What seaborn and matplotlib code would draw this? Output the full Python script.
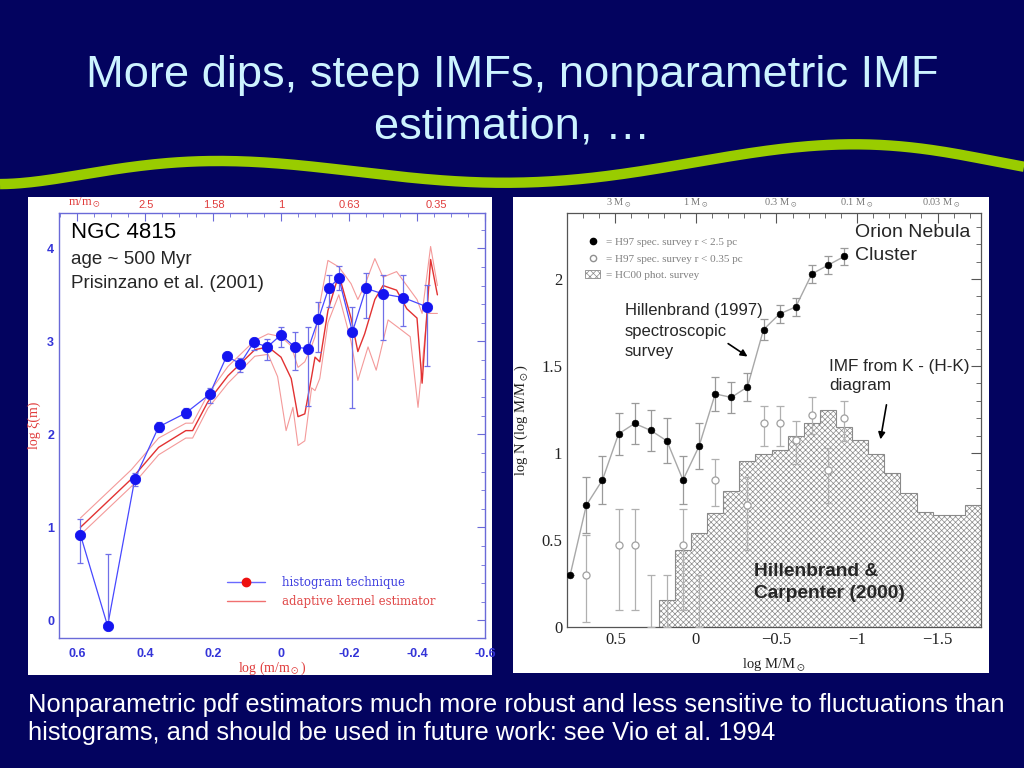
import numpy as np
import matplotlib
matplotlib.use("Agg")
import matplotlib.pyplot as plt
import seaborn as sns
from matplotlib.lines import Line2D
from matplotlib.patches import Rectangle, Patch
from matplotlib.ticker import MultipleLocator

# ---------------- left panel : NGC 4815, Prisinzano et al. (2001) ----------------
hist_logm = [0.59, 0.51, 0.43, 0.36, 0.28, 0.21, 0.16, 0.12, 0.08, 0.04, 0.00,
             -0.04, -0.08, -0.11, -0.14, -0.17, -0.21, -0.25, -0.30, -0.36, -0.43]
hist_logxi = [0.92, -0.06, 1.52, 2.08, 2.23, 2.43, 2.84, 2.76, 2.99, 2.94, 3.07,
              2.94, 2.92, 3.24, 3.57, 3.68, 3.10, 3.57, 3.51, 3.47, 3.37]
hist_err_lo = [0.30, 0.00, 0.08, 0.05, 0.05, 0.09, 0.03, 0.09, 0.08, 0.14, 0.13,
               0.25, 0.61, 0.36, 0.20, 0.13, 0.82, 0.32, 0.50, 0.30, 0.64]
hist_err_hi = [0.17, 0.77, 0.06, 0.05, 0.05, 0.07, 0.03, 0.06, 0.05, 0.09, 0.08,
               0.16, 0.23, 0.18, 0.14, 0.13, 0.27, 0.17, 0.20, 0.24, 0.24]

kern_logm = [0.59, 0.44, 0.36, 0.28, 0.26, 0.215, 0.156, 0.077, 0.038, 0.0, -0.03,
             -0.05, -0.07, -0.09, -0.10, -0.114, -0.138, -0.17, -0.206, -0.226,
             -0.246, -0.276, -0.30, -0.34, -0.37, -0.40, -0.415, -0.44, -0.46]
kern_mid = [1.00, 1.52, 1.86, 2.04, 2.04, 2.35, 2.63, 2.91, 2.94, 2.83, 2.60,
            2.19, 2.22, 2.62, 2.83, 2.78, 3.33, 3.72, 3.25, 2.89,
            3.08, 3.45, 3.60, 3.55, 3.35, 3.25, 2.55, 3.88, 3.50]
kern_up = [1.10, 1.62, 1.96, 2.12, 2.12, 2.43, 2.73, 3.01, 3.08, 3.05, 2.95,
           2.72, 2.78, 2.95, 3.05, 3.40, 3.87, 3.80, 3.62, 3.45,
           3.60, 3.89, 3.69, 3.75, 3.60, 3.45, 3.30, 4.02, 3.60]
kern_low_logm = [0.59, 0.44, 0.36, 0.28, 0.26, 0.215, 0.156, 0.077, 0.038, 0.01,
                 -0.015, -0.035, -0.05, -0.07, -0.09, -0.10, -0.114, -0.138, -0.17,
                 -0.206, -0.226, -0.256, -0.28, -0.315, -0.355, -0.38, -0.403,
                 -0.43, -0.46]
kern_low = [0.92, 1.44, 1.78, 1.96, 1.96, 2.28, 2.55, 2.84, 2.86, 2.62,
            2.04, 2.29, 1.88, 1.93, 2.50, 2.47, 2.60, 3.20, 3.50,
            3.00, 2.58, 2.94, 2.69, 3.23, 3.12, 3.05, 2.29,
            3.30, 3.30]

left_xticks = [0.6, 0.4, 0.2, 0.0, -0.2, -0.4, -0.6]
left_xlabels = ["0.6", "0.4", "0.2", "0", "-0.2", "-0.4", "-0.6"]
left_yticks = [0, 1, 2, 3, 4]
left_top_masses = [2.5, 1.58, 1.0, 0.63, 0.35]
left_top_labels = ["2.5", "1.58", "1", "0.63", "0.35"]

# ---------------- right panel : Orion Nebula Cluster ----------------
h97_logm = [0.78, 0.68, 0.58, 0.48, 0.38, 0.28, 0.18, 0.08, -0.02, -0.12, -0.22,
            -0.32, -0.42, -0.52, -0.62, -0.72, -0.82, -0.92]
h97_logn = [0.30, 0.70, 0.845, 1.11, 1.17, 1.13, 1.07, 0.845, 1.04, 1.34, 1.32,
            1.38, 1.71, 1.80, 1.84, 2.03, 2.08, 2.13]
h97_err = [0.0, 0.16, 0.14, 0.12, 0.12, 0.12, 0.13, 0.14, 0.13, 0.10, 0.09,
           0.08, 0.06, 0.05, 0.05, 0.05, 0.05, 0.05]

core_logm = [0.68, 0.48, 0.38, 0.08, -0.12, -0.32, -0.42, -0.52, -0.62, -0.72, -0.82, -0.92]
core_logn = [0.30, 0.47, 0.47, 0.47, 0.845, 0.70, 1.17, 1.17, 1.075, 1.22, 0.90, 1.20]
core_err_lo = [0.27, 0.37, 0.37, 0.37, 0.15, 0.26, 0.13, 0.13, 0.14, 0.11, 0.19, 0.13]
core_err_hi = [0.23, 0.21, 0.21, 0.21, 0.12, 0.16, 0.10, 0.10, 0.11, 0.10, 0.13, 0.10]
core_lim_logm = [0.28, 0.18, -0.02]
core_lim_logn = [0.30, 0.30, 0.30]

hc00_edges = [0.23, 0.13, 0.03, -0.07, -0.17, -0.27, -0.37, -0.47, -0.57, -0.67, -0.77,
              -0.87, -0.97, -1.07, -1.17, -1.27, -1.37, -1.47, -1.57, -1.67, -1.77]
hc00_logn = [0.155, 0.44, 0.54, 0.655, 0.78, 0.955, 0.995, 1.02, 1.10, 1.17, 1.25,
             1.15, 1.075, 0.995, 0.885, 0.77, 0.66, 0.645, 0.645, 0.70]

right_xticks = [0.5, 0.0, -0.5, -1.0, -1.5]
right_xlabels = ["0.5", "0", "\u22120.5", "\u22121", "\u22121.5"]
right_yticks = [0, 0.5, 1, 1.5, 2]
right_ylabels = ["0", "0.5", "1", "1.5", "2"]
right_top_masses = [3, 1, 0.3, 0.1, 0.03]
right_top_labels = [r"3 M$_\odot$", r"1 M$_\odot$", r"0.3 M$_\odot$", r"0.1 M$_\odot$", r"0.03 M$_\odot$"]

# slide decoration (pixel coords of the green swoosh centre line)
swoosh_x = [0, 100, 200, 300, 400, 512, 600, 700, 800, 870, 950, 1024]
swoosh_y = [184, 172, 161, 165, 177, 183, 177, 160, 148, 145, 152, 167]

# ---------------- figure ----------------
sns.set_style("white")
plt.rcParams["font.family"] = ["Liberation Sans", "DejaVu Sans"]
plt.rcParams["mathtext.fontset"] = "stix"
plt.rcParams["hatch.linewidth"] = 0.5

BG = "#03035f"
SERIF = "Liberation Serif"
fig = plt.figure(figsize=(10.24, 7.68), dpi=100, facecolor=BG)

def fx(px):
    return px / 1024

def fy(py):
    return 1 - py / 768

# title
fig.text(0.5, fy(75), "More dips, steep IMFs, nonparametric IMF", ha="center", va="center",
         color="#cdf3ff", fontsize=32.6)
fig.text(0.5, fy(127), "estimation, \u2026", ha="center", va="center",
         color="#cdf3ff", fontsize=32.6)

# swoosh
sx = np.linspace(0, 1024, 300)
coef = np.polyfit(np.array(swoosh_x) / 1024, swoosh_y, 6)
sy = np.polyval(coef, sx / 1024)
fig.add_artist(Line2D(fx(sx), fy(sy), lw=7.5, color="#99cc00", transform=fig.transFigure,
                      solid_capstyle="butt"))

# white panels, behind the axes
fig.add_artist(Rectangle((fx(28), fy(675)), fx(492 - 28), (675 - 197) / 768, zorder=-10,
                         transform=fig.transFigure, facecolor="white", edgecolor="none"))
fig.add_artist(Rectangle((fx(513), fy(673)), fx(989 - 513), (673 - 197) / 768, zorder=-10,
                         transform=fig.transFigure, facecolor="white", edgecolor="none"))

# ---------------- left axes ----------------
axL = fig.add_axes([fx(59), fy(638), fx(426), 425 / 768])
axL.set_facecolor("white")
blue_ax = "#6a6ad8"
red_lab = "#e03c3c"

sns.lineplot(x=kern_logm, y=kern_up, ax=axL, color="#f49a9a", lw=0.8, sort=False, estimator=None)
sns.lineplot(x=kern_low_logm, y=kern_low, ax=axL, color="#f49a9a", lw=0.8, sort=False, estimator=None)
sns.lineplot(x=kern_logm, y=kern_mid, ax=axL, color="#e23232", lw=1.0, sort=False, estimator=None)

axL.errorbar(hist_logm, hist_logxi, yerr=[hist_err_lo, hist_err_hi], fmt="none",
             ecolor="#7070e8", elinewidth=0.9, capsize=2.5, capthick=0.9, zorder=3)
sns.lineplot(x=hist_logm, y=hist_logxi, ax=axL, color="#4848ff", lw=0.9, sort=False, estimator=None)
sns.scatterplot(x=hist_logm, y=hist_logxi, ax=axL, color="#1414f0", s=55, edgecolor="#1414f0",
                zorder=5, legend=False)

axL.set_xlim(0.653, -0.6)
axL.set_ylim(-0.19, 4.38)
axL.set_xticks(left_xticks, left_xlabels)
axL.set_yticks(left_yticks, [str(v) for v in left_yticks])
axL.xaxis.set_minor_locator(MultipleLocator(0.05))
axL.yaxis.set_minor_locator(MultipleLocator(0.2))
axL.tick_params(which="both", direction="in", top=True, right=True, color=blue_ax,
                labelcolor="#3434d8", labelsize=9)
axL.tick_params(axis="x", which="major", pad=7)
axL.tick_params(which="major", length=6, width=0.8)
axL.tick_params(which="minor", length=3, width=0.6)
for lab in axL.get_xticklabels() + axL.get_yticklabels():
    lab.set_fontweight("bold")
for sp in axL.spines.values():
    sp.set_color(blue_ax)
    sp.set_linewidth(1.0)
axL.set_xlabel(r"log (m/m$_\odot$)", color=red_lab, fontsize=10, family=SERIF, labelpad=0)
axL.set_ylabel("log \u03be(m)", color=red_lab, fontsize=10, family=SERIF, labelpad=4)

secL = axL.secondary_xaxis("top")
secL.set_xticks(np.log10(left_top_masses), left_top_labels)
secL.tick_params(length=0, labelcolor=red_lab, labelsize=8, pad=2)
secL.spines["top"].set_visible(False)
axL.text(0.02, 1.006, r"m/m$_\odot$", transform=axL.transAxes, color=red_lab, fontsize=9,
         family=SERIF, va="bottom")

legL = axL.legend(handles=[Line2D([], [], color="#6a6aff", lw=1.0, marker="o", ms=6,
                                  mfc="#ee1010", mec="#ee1010"),
                           Line2D([], [], color="#f07070", lw=1.0)],
                  labels=["histogram technique", "adaptive kernel estimator"],
                  loc="lower left", bbox_to_anchor=(0.37, 0.045), frameon=False,
                  handlelength=3.2, handletextpad=1.4, labelspacing=0.5,
                  prop={"family": "DejaVu Serif", "size": 8.5},
                  labelcolor=["#4040e0", "#e04848"])

axL.text(0.027, 0.955, "NGC 4815", transform=axL.transAxes, fontsize=16, va="center", color="black")
axL.text(0.027, 0.89, "age ~ 500 Myr", transform=axL.transAxes, fontsize=13.5, va="center")
axL.text(0.027, 0.835, "Prisinzano et al. (2001)", transform=axL.transAxes, fontsize=13.5, va="center")

# ---------------- right axes ----------------
axR = fig.add_axes([fx(567), fy(627), fx(414), 414 / 768])
axR.set_facecolor("white")
grey = "#9a9a9a"

axR.stairs(hc00_logn, hc00_edges, fill=True, facecolor="white", edgecolor="#8a8a8a",
           hatch="xxxxxx", lw=0, zorder=1)
axR.stairs(hc00_logn, hc00_edges, fill=False, edgecolor="#8a8a8a", lw=0.8, zorder=2)

axR.errorbar(core_logm, core_logn, yerr=[core_err_lo, core_err_hi], fmt="none",
             ecolor="#b0b0b0", elinewidth=0.9, capsize=3, capthick=0.9, zorder=3)
axR.errorbar(core_lim_logm, core_lim_logn, yerr=[core_lim_logn, [0, 0, 0]], fmt="none",
             ecolor="#b0b0b0", elinewidth=0.9, capsize=3, capthick=0.9, zorder=3)
sns.scatterplot(x=core_logm, y=core_logn, ax=axR, facecolor="white", edgecolor="#a0a0a0",
                s=26, linewidth=0.9, zorder=4, legend=False)

axR.errorbar(h97_logm, h97_logn, yerr=h97_err, fmt="none", ecolor=grey, elinewidth=0.9,
             capsize=3, capthick=0.9, zorder=3)
sns.lineplot(x=h97_logm, y=h97_logn, ax=axR, color="#a8a8a8", lw=1.0, sort=False, estimator=None)
sns.scatterplot(x=h97_logm, y=h97_logn, ax=axR, color="black", s=24, edgecolor="black",
                zorder=5, legend=False)

axR.set_xlim(0.80, -1.77)
axR.set_ylim(0, 2.38)
axR.set_xticks(right_xticks, right_xlabels)
axR.set_yticks(right_yticks, right_ylabels)
axR.xaxis.set_minor_locator(MultipleLocator(0.1))
axR.yaxis.set_minor_locator(MultipleLocator(0.1))
axR.tick_params(which="both", direction="in", top=True, right=True, color="#555555",
                labelcolor="#222222", labelsize=12)
axR.tick_params(which="major", length=7, width=0.8)
axR.tick_params(which="minor", length=3.5, width=0.6)
for lab in axR.get_xticklabels() + axR.get_yticklabels():
    lab.set_family(SERIF)
for sp in axR.spines.values():
    sp.set_color("#555555")
    sp.set_linewidth(0.9)
axR.set_xlabel(r"log M/M$_\odot$", fontsize=10.5, family=SERIF, color="#222222", labelpad=6)
axR.set_ylabel(r"log N (log M/M$_\odot$)", fontsize=10.5, family=SERIF, color="#222222",
               labelpad=8)

secR = axR.secondary_xaxis("top")
secR.set_xticks(np.log10(right_top_masses), right_top_labels)
secR.tick_params(length=0, labelcolor="#777777", labelsize=7.5, pad=2)
secR.spines["top"].set_visible(False)
for lab in secR.get_xticklabels():
    lab.set_family(SERIF)

legR = axR.legend(handles=[Line2D([], [], ls="none", marker="o", ms=4.5, color="black"),
                           Line2D([], [], ls="none", marker="o", ms=4.5, mfc="white", mec="#909090"),
                           Patch(facecolor="white", edgecolor="#8a8a8a", hatch="xxxxx", lw=0.6)],
                  labels=["= H97 spec. survey r < 2.5 pc", "= H97 spec. survey r < 0.35 pc",
                          "= HC00 phot. survey"],
                  loc="upper left", bbox_to_anchor=(0.02, 0.965), frameon=False,
                  handlelength=1.3, handletextpad=0.6, labelspacing=0.6,
                  prop={"family": SERIF, "size": 8}, labelcolor="#808080")

axR.text(-0.99, 2.315, "Orion Nebula\nCluster", fontsize=14, va="top", ha="left", linespacing=1.45)
axR.text(0.44, 1.86, "Hillenbrand (1997)\nspectroscopic\nsurvey", fontsize=12, va="top",
         ha="left", linespacing=1.45)
axR.annotate("", xy=(-0.335, 1.546), xytext=(-0.186, 1.638),
             arrowprops=dict(arrowstyle="-|>", color="black", lw=1.2, mutation_scale=10))
axR.text(-0.826, 1.54, "IMF from K - (H-K)\ndiagram", fontsize=12.3, va="top", ha="left",
         linespacing=1.3)
axR.annotate("", xy=(-1.143, 1.063), xytext=(-1.186, 1.293),
             arrowprops=dict(arrowstyle="-|>", color="black", lw=1.2, mutation_scale=10))
axR.text(-0.36, 0.255, "Hillenbrand &\nCarpenter (2000)", fontsize=13.8, fontweight="bold",
         va="center", ha="left", linespacing=1.35)

# footer text
fig.text(fx(28), fy(705), "Nonparametric pdf estimators much more robust and less sensitive to fluctuations than",
         color="white", fontsize=18.4, va="center", ha="left")
fig.text(fx(28), fy(733), "histograms, and should be used in future work: see Vio et al. 1994",
         color="white", fontsize=18.4, va="center", ha="left")

fig.savefig("out.png", dpi=100, facecolor=BG)
